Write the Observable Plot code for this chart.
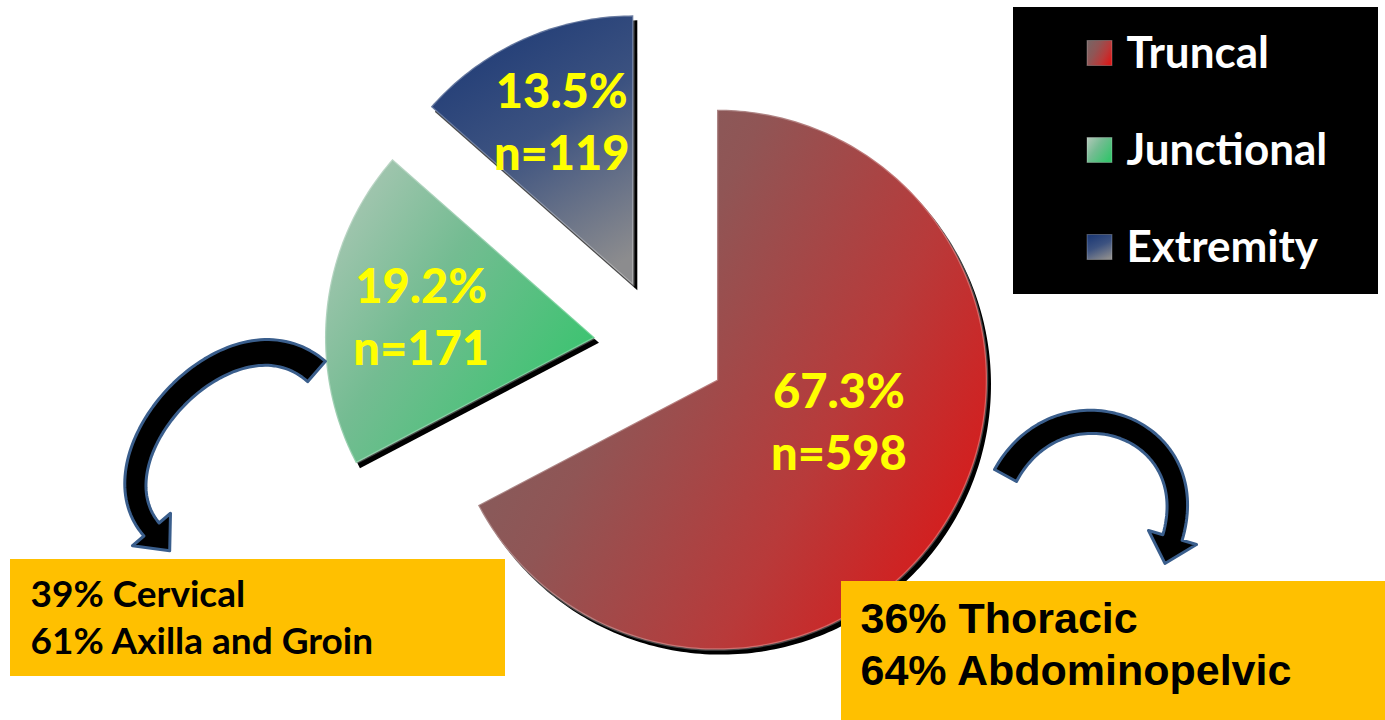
<!DOCTYPE html>
<html>
<head>
<meta charset="utf-8">
<script src="https://cdn.jsdelivr.net/npm/d3@7"></script>
<script src="https://cdn.jsdelivr.net/npm/@observablehq/plot@0.6"></script>
<style>
  html, body { margin: 0; padding: 0; background: #fff; overflow: hidden; }
  #chart svg { display: block; }
</style>
</head>
<body>
<div id="chart"></div>
<script>
// ---------------- DATA ----------------
const categories = ["Truncal", "Junctional", "Extremity"];
const percents   = [67.3, 19.2, 13.5];
const counts     = [598, 171, 119];
const junctionalBreakdown = ["39% Cervical", "61% Axilla and Groin"];
const truncalBreakdown    = ["36% Thoracic", "64% Abdominopelvic"];

// ---------------- LAYOUT / STYLE ----------------
const W = 1385, H = 720;
const pieCenter = [660, 345], R = 270, explode = 66;
// label placement per slice: [angle offset from bisector (deg), radius fraction]
const labelPlace = { Truncal: [-13, 0.475], Junctional: [1, 0.65], Extremity: [1, 0.67] };
const gradients = {
  Truncal:    { x1: 0, y1: 0.2, x2: 1, y2: 0.75, stops: [[0, "#7b6363"], [0.35, "#905555"], [0.7, "#b83a3a"], [1, "#d81a1a"]] },
  Junctional: { x1: 0.05, y1: 0, x2: 1, y2: 0.7, stops: [[0, "#b0c8b8"], [0.45, "#74bc92"], [1, "#38c46e"]] },
  Extremity:  { x1: 0.3, y1: 0, x2: 0.75, y2: 1, stops: [[0, "#1f3b76"], [0.45, "#3c5280"], [1, "#8c8c8e"]] }
};
const legendBox = { x1: 1013, y1: 7, x2: 1378, y2: 294 };
const legendRows = { swatchX: 1087, swatchSize: 25, textX: 1126, y0: 53, step: 97 };
const leftBox  = { x1: 10,  y1: 559, x2: 505,  y2: 676, textX: 30,  ys: [595, 642] };
const rightBox = { x1: 841, y1: 581, x2: 1385, y2: 720, textX: 860, ys: [619, 671] };
const arrowStyle = { fill: "#000", stroke: "#3a5e8c", strokeWidth: 3 };
const arrows = [
  { p0: [316, 371], p1: [233, 298], p2: [86, 453],  p3: [151, 529], w0: 27, w1: 20, headHalf: 25, headLen: 28 },
  { p0: [1005, 475], p1: [1059, 376], p2: [1205, 424], p3: [1172, 537], w0: 25, w1: 20, headHalf: 25, headLen: 27 }
];

// ---------------- GEOMETRY ----------------
const rows = categories.map((c, i) => ({ category: c, pct: percents[i], n: counts[i] }));
const polar = (cx, cy, r, a) => [cx + r * Math.sin(a), cy - r * Math.cos(a)];
const pieArcs = d3.pie().sort(null).value(d => d.pct)(rows);
const slices = pieArcs.map(a => {
  const mid = (a.startAngle + a.endAngle) / 2;
  const [cx, cy] = polar(pieCenter[0], pieCenter[1], explode, mid);
  const n = Math.max(12, Math.ceil((a.endAngle - a.startAngle) / (Math.PI / 180)));
  const pts = [[cx, cy]];
  for (let i = 0; i <= n; i++) pts.push(polar(cx, cy, R, a.startAngle + (a.endAngle - a.startAngle) * i / n));
  pts.push([cx, cy]);
  const [dAng, frac] = labelPlace[a.data.category];
  const [lx, ly] = polar(cx, cy, R * frac, mid + dAng * Math.PI / 180);
  return { ...a.data, pts, lx, ly };
});

function arrowPolygon(a) {
  const { p0, p1, p2, p3, w0, w1, headHalf, headLen } = a;
  const N = 80, left = [], right = [];
  let end, tan;
  for (let i = 0; i <= N; i++) {
    const t = i / N, mt = 1 - t;
    const bx = (k) => mt ** 3 * p0[k] + 3 * mt * mt * t * p1[k] + 3 * mt * t * t * p2[k] + t ** 3 * p3[k];
    const db = (k) => 3 * mt * mt * (p1[k] - p0[k]) + 6 * mt * t * (p2[k] - p1[k]) + 3 * t * t * (p3[k] - p2[k]);
    const x = bx(0), y = bx(1), dx = db(0), dy = db(1);
    const L = Math.hypot(dx, dy), tx = dx / L, ty = dy / L, nx = -ty, ny = tx;
    const w = (w0 + (w1 - w0) * t) / 2;
    left.push([x + nx * w, y + ny * w]);
    right.push([x - nx * w, y - ny * w]);
    if (i === N) { end = [x, y]; tan = [tx, ty]; }
  }
  const nx = -tan[1], ny = tan[0];
  const head = [
    [end[0] + nx * headHalf, end[1] + ny * headHalf],
    [end[0] + tan[0] * headLen, end[1] + tan[1] * headLen],
    [end[0] - nx * headHalf, end[1] - ny * headHalf]
  ];
  return [...left, ...head, ...right.reverse(), left[0]];
}

// gradient defs as a render-function mark
const defsMark = () => {
  const g = d3.create("svg:g");
  const defs = g.append("defs");
  Object.entries(gradients).forEach(([k, gr]) => {
    const lg = defs.append("linearGradient").attr("id", "grad-" + k)
      .attr("x1", gr.x1).attr("y1", gr.y1).attr("x2", gr.x2).attr("y2", gr.y2);
    gr.stops.forEach(([o, c]) => lg.append("stop").attr("offset", o).attr("stop-color", c));
  });
  return g.node();
};

const X = d => d[0], Y = d => d[1];
const marks = [defsMark];

// slice shadows
slices.forEach(s => marks.push(Plot.line(s.pts, { x: X, y: Y, fill: "#000", stroke: "none", dx: 4, dy: 5 })));
// slices
slices.forEach(s => marks.push(Plot.line(s.pts, {
  x: X, y: Y, fill: `url(#grad-${s.category})`,
  stroke: "rgba(255,255,255,0.28)", strokeWidth: 2.5, strokeLinejoin: "round"
})));
// slice labels
marks.push(Plot.text(slices, {
  x: "lx", y: "ly", text: d => `${d.pct}%\nn=${d.n}`,
  fill: "#ffff00", fontSize: 47, fontWeight: 900, fontFamily: "Lato",
  lineHeight: 1.32, textAnchor: "middle"
}));

// arrows
arrows.forEach(a => marks.push(Plot.line(arrowPolygon(a), {
  x: X, y: Y, ...arrowStyle, strokeLinejoin: "round"
})));

// annotation boxes
[leftBox, rightBox].forEach(b => marks.push(Plot.rect([b], { x1: "x1", x2: "x2", y1: "y1", y2: "y2", fill: "#ffc000" })));
marks.push(Plot.text(junctionalBreakdown, {
  x: () => leftBox.textX, y: (d, i) => leftBox.ys[i], text: d => d,
  textAnchor: "start", fill: "#000", fontSize: 37, fontWeight: 700, fontFamily: "Lato"
}));
marks.push(Plot.text(truncalBreakdown, {
  x: () => rightBox.textX, y: (d, i) => rightBox.ys[i], text: d => d,
  textAnchor: "start", fill: "#000", fontSize: 43, fontWeight: 700, fontFamily: "Liberation Sans"
}));

// legend
marks.push(Plot.rect([legendBox], { x1: "x1", x2: "x2", y1: "y1", y2: "y2", fill: "#000" }));
categories.forEach((c, i) => {
  const cy = legendRows.y0 + i * legendRows.step;
  marks.push(Plot.rect([c], {
    x1: () => legendRows.swatchX, x2: () => legendRows.swatchX + legendRows.swatchSize,
    y1: () => cy - legendRows.swatchSize / 2, y2: () => cy + legendRows.swatchSize / 2,
    fill: `url(#grad-${c})`, stroke: "rgba(255,255,255,0.25)", strokeWidth: 1
  }));
});
marks.push(Plot.text(categories, {
  x: () => legendRows.textX, y: (d, i) => legendRows.y0 + i * legendRows.step, text: d => d,
  textAnchor: "start", fill: "#fff", fontSize: 44, fontWeight: 700, fontFamily: "Lato"
}));

const chart = Plot.plot({
  width: W, height: H, margin: 0,
  x: { domain: [0, W], range: [0, W], axis: null },
  y: { domain: [0, H], range: [0, H], axis: null },
  style: { background: "#fff" },
  marks
});
document.getElementById("chart").appendChild(chart);
</script>
</body>
</html>
